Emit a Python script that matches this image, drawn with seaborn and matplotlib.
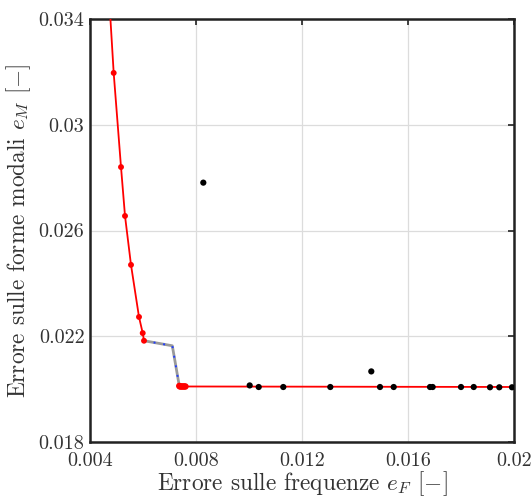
import numpy as np
import pandas as pd
import matplotlib
matplotlib.use("Agg")
import matplotlib.pyplot as plt
import seaborn as sns

# Pareto front (red)
front_x = [0.00465, 0.004894, 0.00517, 0.005321, 0.005547, 0.005849, 0.005989, 0.006038]
front_y = [0.0360, 0.03196, 0.02840, 0.02655, 0.02470, 0.02273, 0.02212, 0.02183]
# transition (gray / blue dotted)
trans_x = [0.006038, 0.007106, 0.00737]
trans_y = [0.02183, 0.02164, 0.02012]
# flat part of front (red)
flat_x = [0.00737, 0.0074, 0.00745, 0.0075, 0.00755, 0.0076, 0.0205]
flat_y = [0.02012, 0.02010, 0.02010, 0.02010, 0.02010, 0.02010, 0.02008]
flat_marked = [True, True, True, True, True, True, False]
# other solutions (black)
pts_x = [0.008276, 0.010026, 0.010366, 0.011294, 0.013068, 0.014615, 0.014943,
         0.01546, 0.01683, 0.01693, 0.0180, 0.01848, 0.019094, 0.019445, 0.019925]
pts_y = [0.02781, 0.02014, 0.02008, 0.02008, 0.02008, 0.02067, 0.02008,
         0.02008, 0.02008, 0.02008, 0.02008, 0.02008, 0.02007, 0.02007, 0.02007]

xticks = [0.004, 0.008, 0.012, 0.016, 0.02]
yticks = [0.018, 0.022, 0.026, 0.03, 0.034]
xtick_labels = ["0.004", "0.008", "0.012", "0.016", "0.02"]
ytick_labels = ["0.018", "0.022", "0.026", "0.03", "0.034"]

sns.set_style("whitegrid")
plt.rcParams["font.family"] = ["cmr10", "DejaVu Serif"]
plt.rcParams["mathtext.fontset"] = "cm"
plt.rcParams["axes.formatter.use_mathtext"] = True

fig = plt.figure(figsize=(5.32, 5.00), dpi=100)
ax = fig.add_axes([90/532, 1-442/500, 424/532, 423/500])

front = pd.DataFrame({"x": front_x, "y": front_y})
trans = pd.DataFrame({"x": trans_x, "y": trans_y})
flat = pd.DataFrame({"x": flat_x, "y": flat_y})
pts = pd.DataFrame({"x": pts_x, "y": pts_y})

sns.lineplot(data=trans, x="x", y="y", ax=ax, color="#9a9a9a", lw=2.0, sort=False, zorder=2)
sns.lineplot(data=trans, x="x", y="y", ax=ax, color="#1f3dff", lw=1.4, ls=(0, (1, 4)), sort=False, zorder=3)
sns.lineplot(data=front, x="x", y="y", ax=ax, color="red", lw=1.3, sort=False, zorder=4)
sns.scatterplot(data=front.iloc[1:], x="x", y="y", ax=ax, color="red", s=18, edgecolor="none", zorder=5)
sns.lineplot(data=flat, x="x", y="y", ax=ax, color="red", lw=1.3, sort=False, zorder=4)
sns.scatterplot(data=flat[flat_marked], x="x", y="y", ax=ax, color="red", s=22, edgecolor="none", zorder=5)
sns.scatterplot(data=pts, x="x", y="y", ax=ax, color="black", s=20, edgecolor="none", zorder=6)

ax.set_xlim(0.004, 0.02)
ax.set_ylim(0.018, 0.034)
ax.set_xticks(xticks)
ax.set_xticklabels(xtick_labels)
ax.set_yticks(yticks)
ax.set_yticklabels(ytick_labels)
ax.tick_params(direction="in", length=4, width=1.2, top=True, right=True,
               labelsize=14.5, colors="#222222")
ax.tick_params(axis="x", pad=7)
ax.tick_params(axis="y", pad=4)
for lab in ax.get_xticklabels() + ax.get_yticklabels():
    lab.set_color("#333333")
ax.grid(True, color="#dcdcdc", lw=0.9)
for sp in ax.spines.values():
    sp.set_visible(True)
    sp.set_color("#222222")
    sp.set_linewidth(1.8)

ax.set_xlabel(r"Errore sulle frequenze $e_F$ $[-]$", fontsize=16.8, color="#333333", labelpad=0)
ax.set_ylabel(r"Errore sulle forme modali $e_M$ $[-]$", fontsize=16.8, color="#333333", labelpad=4)

fig.savefig("out.png", dpi=100)
